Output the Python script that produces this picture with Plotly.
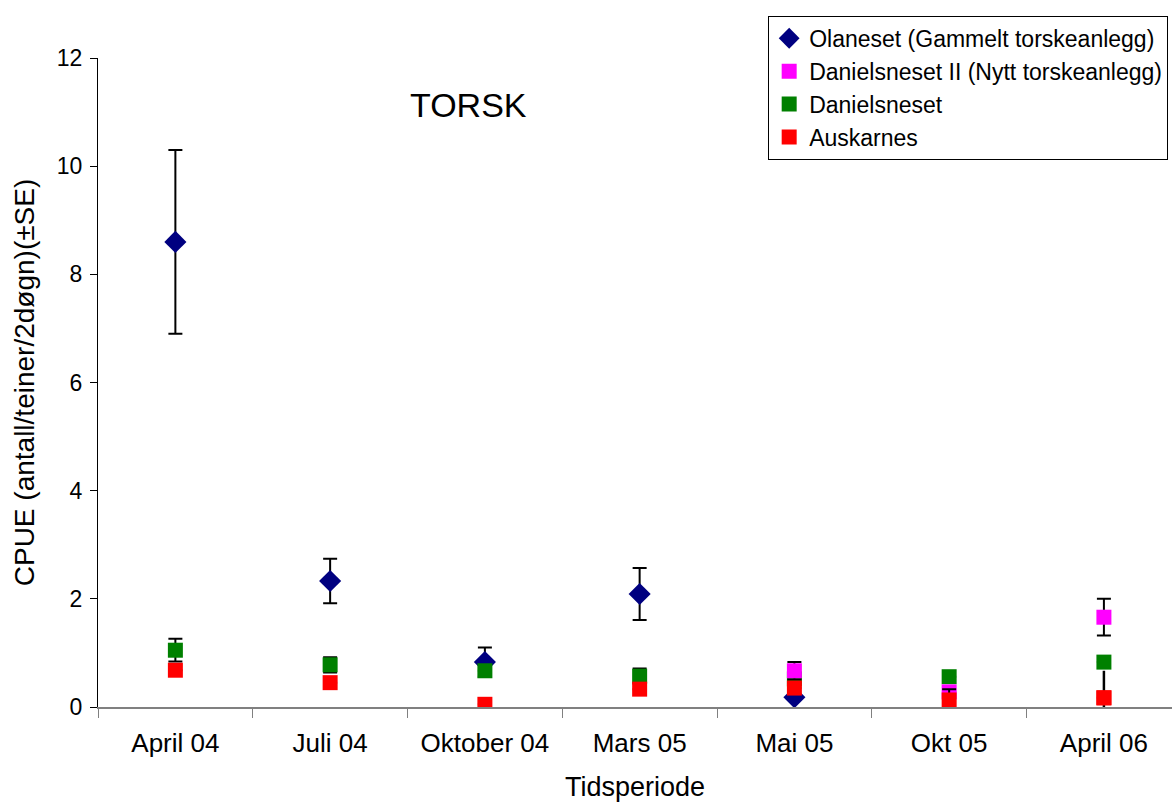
import plotly.graph_objects as go

periods = ["April 04", "Juli 04", "Oktober 04", "Mars 05", "Mai 05", "Okt 05", "April 06"]

olaneset = [8.6, 2.33, 0.83, 2.09, 0.18, None, None]
olaneset_se = [1.7, 0.41, 0.27, 0.48, 0.0, None, None]

daniels2 = [None, None, None, None, 0.67, 0.28, 1.66]
daniels2_se = [None, None, None, None, 0.16, 0.0, 0.34]

daniels = [1.05, 0.78, 0.67, 0.57, 0.52, 0.56, 0.83]
daniels_se = [0.21, 0.14, 0.0, 0.14, 0.0, 0.0, 0.0]

auskarnes = [0.68, 0.45, 0.05, 0.33, 0.35, 0.13, 0.17]
auskarnes_se = [0.0, 0.0, 0.0, 0.0, 0.0, 0.2, None]
# last period: error line drawn without caps
auskarnes_last_plus = 0.5
auskarnes_last_minus = 0.37

FONT = "Arial, Liberation Sans, sans-serif"


def err(se, width=7):
    return dict(type="data", array=se, visible=True, color="black",
                thickness=2, width=width)


fig = go.Figure()

fig.add_trace(go.Scatter(
    x=periods, y=olaneset, mode="markers", name="Olaneset (Gammelt torskeanlegg)",
    marker=dict(symbol="diamond", size=17, color="#000080"),
    error_y=err(olaneset_se), legendrank=1))

fig.add_trace(go.Scatter(
    x=periods, y=daniels, mode="markers", name="Danielsneset",
    marker=dict(symbol="square", size=15, color="#008000"),
    error_y=err(daniels_se), legendrank=3))

fig.add_trace(go.Scatter(
    x=periods, y=daniels2, mode="markers", name="Danielsneset II (Nytt torskeanlegg)",
    marker=dict(symbol="square", size=15, color="#FF00FF"),
    error_y=err(daniels2_se), legendrank=2))

fig.add_trace(go.Scatter(
    x=periods[-1:], y=auskarnes[-1:], mode="markers", showlegend=False,
    marker=dict(symbol="square", size=15, color="#FF0000"),
    error_y=dict(type="data", array=[auskarnes_last_plus],
                 arrayminus=[auskarnes_last_minus], color="black",
                 thickness=2.5, width=0),
    hoverinfo="skip"))

fig.add_trace(go.Scatter(
    x=periods, y=auskarnes, mode="markers", name="Auskarnes",
    marker=dict(symbol="square", size=15, color="#FF0000"),
    error_y=err(auskarnes_se), legendrank=4))

fig.add_annotation(text="TORSK", x=0.345, y=0.96, xref="paper", yref="paper",
                   showarrow=False, font=dict(family=FONT, size=34, color="black"))

fig.update_layout(
    width=1172, height=802,
    paper_bgcolor="white", plot_bgcolor="white",
    font=dict(family=FONT, size=22, color="black"),
    margin=dict(l=98, r=0, t=58, b=95, autoexpand=False),
    showlegend=True,
    legend=dict(x=0.624, y=1.065, xanchor="left", yanchor="top",
                bgcolor="white", bordercolor="black", borderwidth=1,
                font=dict(family=FONT, size=23), tracegroupgap=0,
                itemsizing="trace"),
    xaxis=dict(range=[-0.5, 6.44], showline=True, linecolor="#808080", linewidth=2,
               ticks="outside", tickson="boundaries", ticklen=9, tickcolor="#808080",
               tickfont=dict(size=26), ticklabelstandoff=12,
               showgrid=False, zeroline=False,
               title=dict(text="Tidsperiode", font=dict(size=27), standoff=22)),
    yaxis=dict(range=[0, 12], dtick=2, showline=True, linecolor="black", linewidth=1,
               ticks="outside", ticklen=7, tickcolor="black",
               tickfont=dict(size=23), ticklabelstandoff=3,
               showgrid=False, zeroline=False,
               title=dict(text="CPUE (antall/teiner/2døgn)(±SE)", font=dict(size=28),
                          standoff=14)),
)

# drop the default page margin so the figure fills the window exactly
fig.write_html("out.html", config={"displayModeBar": False},
               post_script="document.body.style.margin='0';"
                           "document.body.style.overflow='hidden';")
